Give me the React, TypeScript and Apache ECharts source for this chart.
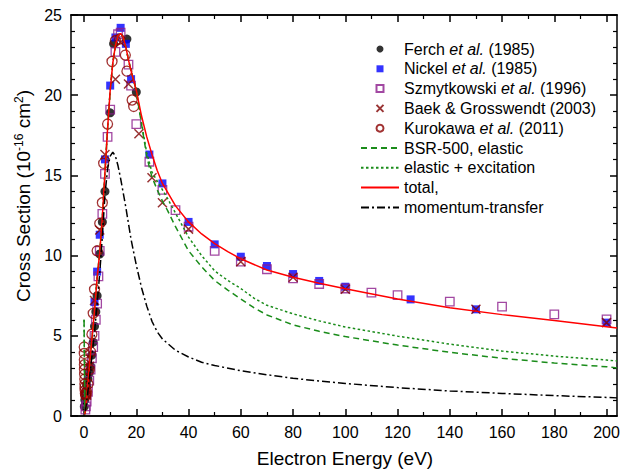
import React, { useEffect, useRef } from "react";
import * as echarts from "echarts";

const FONT = "'Liberation Sans', Arial, sans-serif";

// ---- axis ticks ----
const xMajorTicks = [0, 20, 40, 60, 80, 100, 120, 140, 160, 180, 200];
const xMinorTicks = [10, 30, 50, 70, 90, 110, 130, 150, 170, 190];

// ---- experimental data [E (eV), sigma (1e-16 cm2)] ----
const ferch = [
  [0.1, 0.6], [0.3, 1.0], [0.5, 1.4], [1, 1.9], [1.5, 2.3], [2, 2.7], [2.5, 3.1], [3, 3.8],
  [3.5, 4.6], [4, 5.6], [4.5, 6.5], [5, 7.5], [6, 10.1], [7, 12.1], [8, 14.0], [10, 18.9],
  [11.3, 23.2], [16.4, 23.5], [20, 20.2],
];
const nickel = [
  [4, 7.1], [5, 9.0], [6, 11.3], [8, 16.0], [10, 20.6], [12, 23.6], [14, 24.2], [16, 23.2],
  [18, 21.0], [25, 16.3], [30, 14.5], [40, 12.1], [50, 10.7], [60, 9.93], [70, 9.35],
  [80, 8.85], [90, 8.42], [100, 8.06], [125, 7.27], [150, 6.65], [200, 5.82],
];
const szmytkowski = [
  [0.5, 0.4], [0.7, 0.6], [1, 0.9], [1.5, 1.5], [2, 2.2], [2.5, 2.9], [3, 3.6], [3.5, 4.3],
  [4, 5.0], [4.5, 6.0], [5, 7.0], [5.5, 8.7], [6, 10.3], [7, 12.6], [8, 15.1], [9, 17.4],
  [10, 19.1], [12, 22.7], [13, 23.8], [14, 23.9], [17, 21.9], [18, 20.6], [20, 18.2],
  [25, 15.85], [30, 14.1], [35, 12.84], [40, 11.8], [50, 10.3], [60, 9.62], [70, 9.15],
  [80, 8.58], [90, 8.23], [100, 7.95], [110, 7.69], [120, 7.54], [140, 7.13], [160, 6.82],
  [180, 6.34], [200, 6.03],
];
const baek = [
  [1, 1.3], [2, 3.1], [4, 7.2], [6, 11.6], [8, 16.3], [12, 21.0], [14, 23.3], [17, 20.7],
  [21, 17.6], [26, 14.85], [30, 13.3], [40, 11.65], [60, 9.62], [80, 8.65], [100, 7.9],
  [150, 6.65], [200, 5.82],
];
const kurokawa = [
  [0.05, 4.3], [0.08, 3.9], [0.1, 3.5], [0.13, 3.2], [0.16, 2.9], [0.2, 2.6], [0.25, 2.3],
  [0.3, 2.0], [0.35, 1.8], [0.4, 1.6], [0.5, 1.4], [0.6, 1.3], [0.8, 1.3], [1, 1.5],
  [1.5, 2.0], [2, 2.9], [2.5, 4.0], [3, 5.1], [3.5, 6.4], [4, 7.9], [5, 10.3], [6, 12.0],
  [7, 13.3], [7.5, 15.75], [9, 18.2], [10.7, 22.1], [12, 23.4], [13.6, 23.5], [15.8, 22.5],
  [16.4, 21.5], [18.4, 19.7], [19, 19.3],
];

// ---- theory curves ----
const riseCurve = [
  [0.3, 0.1], [0.5, 0.3], [1, 1.1], [2, 3.0], [3, 4.8], [4, 6.6], [5, 8.6], [6, 10.2],
  [7, 12.4], [8, 15.2], [9, 17.9], [10, 20.3], [11, 22.0], [12, 23.1], [13, 23.7],
  [14, 23.85], [15, 23.6], [16, 23.0], [17, 22.2], [18, 21.5], [19, 20.9], [20, 20.3],
];
const greenStart = [[0, 6.0]];
const elasticTail = [
  [21, 19.2], [22, 18.2], [23, 17.2], [24, 16.2], [25, 15.5], [26, 14.9], [28, 14.1],
  [30, 13.4], [32, 12.8], [35, 11.8], [40, 10.3], [45, 9.3], [50, 8.45], [55, 7.85],
  [60, 7.3], [65, 6.75], [70, 6.3], [80, 5.68], [90, 5.28], [100, 4.95], [120, 4.42],
  [140, 3.97], [160, 3.6], [180, 3.3], [200, 3.07], [204, 3.0],
];
const excitationTail = [
  [21, 19.3], [22, 18.3], [23, 17.3], [24, 16.4], [25, 15.8], [26, 15.2], [28, 14.65],
  [30, 14.1], [32, 13.55], [35, 12.65], [40, 11.15], [45, 10.0], [50, 9.05], [55, 8.45],
  [60, 7.95], [65, 7.35], [70, 6.9], [80, 6.37], [90, 5.93], [100, 5.55], [120, 4.98],
  [140, 4.48], [160, 4.05], [180, 3.73], [200, 3.49], [204, 3.43],
];
const totalTail = [
  [22, 18.7], [24, 17.4], [26, 16.3], [28, 15.3], [30, 14.5], [35, 13.1], [40, 12.1],
  [45, 11.35], [50, 10.75], [55, 10.25], [60, 9.8], [70, 9.1], [80, 8.65], [90, 8.28],
  [100, 7.93], [120, 7.3], [140, 6.75], [160, 6.32], [180, 5.95], [200, 5.57], [204, 5.48],
];
const momentum = [
  [0.5, 0.3], [1, 0.9], [2, 2.3], [3, 3.7], [4, 5.2], [5, 7.0], [6, 8.9], [7, 11.2],
  [8, 13.8], [9, 15.4], [10, 16.2], [11, 16.45], [12, 16.2], [13, 15.6], [14, 14.8],
  [15, 13.9], [16, 13.0], [17, 12.0], [18, 11.0], [19, 10.2], [20, 9.4], [22, 8.0],
  [24, 6.85], [26, 5.9], [28, 5.25], [30, 4.8], [35, 4.1], [40, 3.68], [45, 3.35],
  [50, 3.15], [60, 2.82], [70, 2.57], [80, 2.35], [90, 2.18], [100, 2.03], [120, 1.77],
  [140, 1.56], [160, 1.41], [180, 1.27], [200, 1.16], [204, 1.13],
];

const legendRich: Record<string, string> = {
  "Ferch et al. (1985)": "Ferch {i|et al.} (1985)",
  "Nickel et al. (1985)": "Nickel {i|et al.} (1985)",
  "Szmytkowski et al. (1996)": "Szmytkowski {i|et al.} (1996)",
  "Kurokawa et al. (2011)": "Kurokawa {i|et al.} (2011)",
};

const SQUARE = "path://M0,0L10,0L10,10L0,10Z";
const CROSS = "path://M0,0L10,10M10,0L0,10";

export default function App() {
  const ref = useRef<HTMLDivElement>(null);
  useEffect(() => {
    if (!ref.current) return;
    const chart = echarts.init(ref.current, undefined, { renderer: "svg" });
    const axisLine = { show: true, onZero: false, lineStyle: { color: "#000", width: 1.5 } };
    const xBase = { type: "value", min: -5, max: 204, gridIndex: 0, splitLine: { show: false }, axisLine };
    const yBase = {
      type: "value", min: 0, max: 25, interval: 5, splitLine: { show: false }, axisLine,
      axisTick: { show: true, inside: true, length: 7, lineStyle: { color: "#000", width: 1.5 } },
      minorTick: { show: true, splitNumber: 5, length: 4, lineStyle: { color: "#000", width: 1.2 } },
    };
    const lineSeries = (name: string, data: number[][], type: any, color: string) => ({
      name, type: "line", data, showSymbol: false, symbol: "none", smooth: false,
      lineStyle: { color, width: 1.5, type }, itemStyle: { color: "transparent", borderWidth: 0 }, z: 3,
    });
    chart.setOption({
      animation: false,
      backgroundColor: "#fff",
      textStyle: { fontFamily: FONT },
      grid: { left: 71, right: 7, top: 15, bottom: 55 },
      legend: {
        orient: "vertical", left: 355, top: 36, itemWidth: 38, itemHeight: 7, itemGap: 3.8,
        symbolKeepAspect: true,
        textStyle: {
          fontFamily: FONT, fontSize: 16, color: "#000", lineHeight: 16,
          rich: { i: { fontStyle: "italic", fontSize: 16, fontFamily: FONT, color: "#000" } },
        },
        formatter: (n: string) => legendRich[n] || n,
      },
      xAxis: [
        {
          ...xBase, position: "bottom",
          axisTick: { show: true, inside: true, length: 7, customValues: xMajorTicks, lineStyle: { color: "#000", width: 1.5 } },
          axisLabel: { show: true, customValues: xMajorTicks, fontSize: 16, color: "#000", margin: 8, fontFamily: FONT },
        },
        {
          ...xBase, position: "bottom",
          axisTick: { show: true, inside: true, length: 4, customValues: xMinorTicks, lineStyle: { color: "#000", width: 1.2 } },
          axisLabel: { show: false },
        },
        {
          ...xBase, position: "top",
          axisTick: { show: true, inside: true, length: 7, customValues: xMajorTicks, lineStyle: { color: "#000", width: 1.5 } },
          axisLabel: { show: false },
        },
        {
          ...xBase, position: "top",
          axisTick: { show: true, inside: true, length: 4, customValues: xMinorTicks, lineStyle: { color: "#000", width: 1.2 } },
          axisLabel: { show: false },
        },
      ],
      yAxis: [
        { ...yBase, position: "left", axisLabel: { show: true, fontSize: 16, color: "#000", margin: 9, fontFamily: FONT } },
        { ...yBase, position: "right", axisLabel: { show: false } },
      ],
      series: [
        { name: "Ferch et al. (1985)", type: "scatter", data: ferch, symbol: "circle", symbolSize: 9, itemStyle: { color: "#000" } },
        { name: "Nickel et al. (1985)", type: "scatter", data: nickel, symbol: SQUARE, symbolSize: 8, itemStyle: { color: "#0000ff" } },
        { name: "Szmytkowski et al. (1996)", type: "scatter", data: szmytkowski, symbol: SQUARE, symbolSize: 8.5, itemStyle: { color: "transparent", borderColor: "#8b1a8b", borderWidth: 1.3 } },
        { name: "Baek & Grosswendt (2003)", type: "scatter", data: baek, symbol: CROSS, symbolSize: 9, itemStyle: { color: "transparent", borderColor: "#800000", borderWidth: 1.5 } },
        { name: "Kurokawa et al. (2011)", type: "scatter", data: kurokawa, symbol: "circle", symbolSize: 10, itemStyle: { color: "transparent", borderColor: "#8b0000", borderWidth: 1.3 } },
        lineSeries("BSR-500, elastic", [...greenStart, ...riseCurve, ...elasticTail], [6, 4], "#1a8c1a"),
        lineSeries("elastic + excitation", [...greenStart, ...riseCurve, ...excitationTail], [2.5, 2.5], "#1a8c1a"),
        lineSeries("total,", [...riseCurve, ...totalTail], "solid", "#ff0000"),
        lineSeries("momentum-transfer", momentum, [8, 3, 2, 3], "#000"),
      ],
      graphic: [
        {
          type: "text", x: 23, y: 196, rotation: Math.PI / 2,
          style: {
            text: "Cross Section (10{sup|-16} cm{sup|2})", fontSize: 19, fontFamily: FONT, fill: "#000",
            align: "center", verticalAlign: "middle",
            rich: { sup: { fontSize: 12, fontFamily: FONT, verticalAlign: "top", padding: [0, 0, 8, 0] } },
          },
        },
        {
          type: "text", x: 345, y: 458,
          style: { text: "Electron Energy (eV)", fontSize: 19, fontFamily: FONT, fill: "#000", align: "center", verticalAlign: "middle" },
        },
      ],
    });
    return () => chart.dispose();
  }, []);
  return <div ref={ref} style={{ position: "absolute", left: 0, top: 0, width: 624, height: 471 }} />;
}
